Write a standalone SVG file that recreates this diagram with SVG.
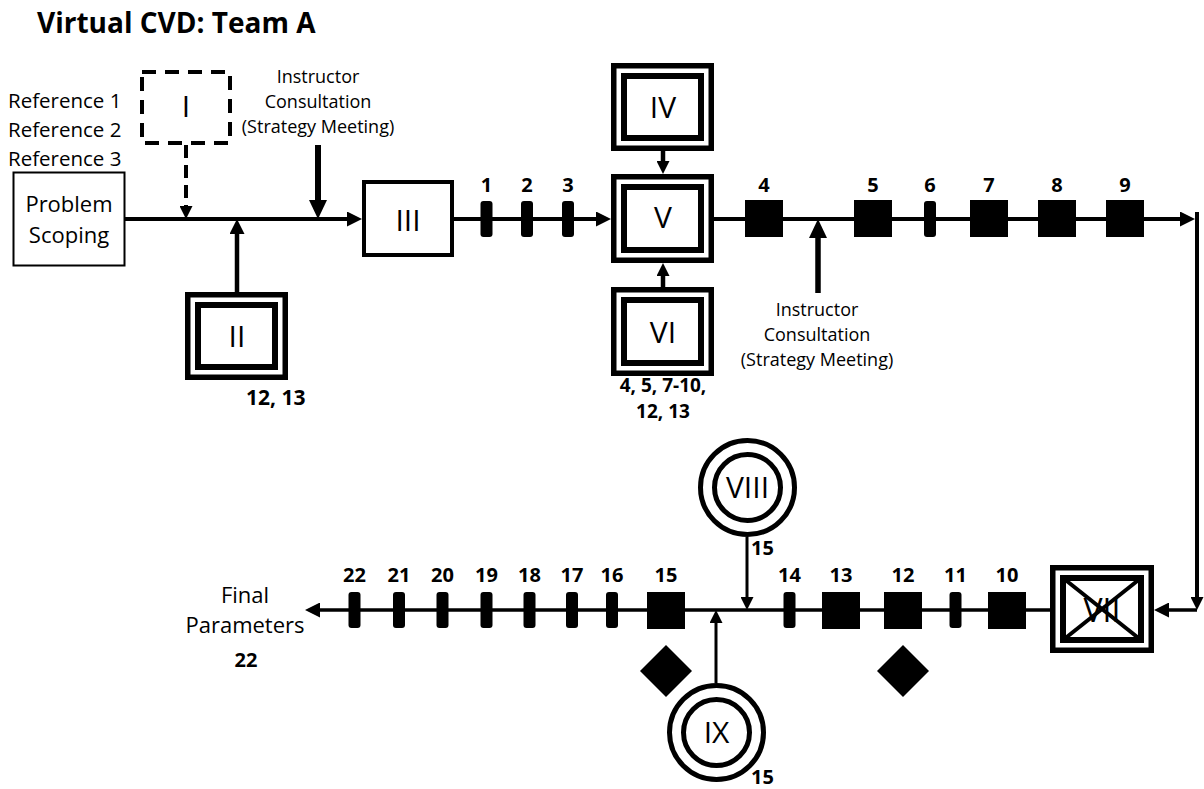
<svg xmlns="http://www.w3.org/2000/svg" width="1204" height="789" viewBox="0 0 1204 789">
<style>
text{font-family:"Open Sans","Liberation Sans",sans-serif;fill:#000}
.title{font-size:28px;font-weight:bold}
.ref{font-size:20.5px}
.ic{font-size:18px;text-anchor:middle}
.ps{font-size:22px;text-anchor:middle}
.rn{font-size:30px;font-weight:normal;text-anchor:middle}
.num{font-size:20px;font-weight:bold;text-anchor:middle}
.o{fill:none;stroke:#000;stroke-width:5.5}
.i{fill:none;stroke:#000;stroke-width:6}
.ln{fill:none;stroke:#000}
.mk{fill:#000}
</style>
<defs>
<marker id="ah" markerUnits="userSpaceOnUse" markerWidth="15" markerHeight="15" refX="1" refY="7.5" orient="auto"><path d="M0,0 L15,7.5 L0,15 z" fill="#000"/></marker>
<marker id="ahb" markerUnits="userSpaceOnUse" markerWidth="19" markerHeight="18" refX="1" refY="9" orient="auto"><path d="M0,0 L19,9 L0,18 z" fill="#000"/></marker>
<marker id="ahs" markerUnits="userSpaceOnUse" markerWidth="13" markerHeight="13" refX="1" refY="6.5" orient="auto"><path d="M0,0 L13,6.5 L0,13 z" fill="#000"/></marker>
</defs>
<rect width="1204" height="789" fill="#fff"/>
<text class="title" x="37" y="33">Virtual CVD: Team A</text>

<g id="connectors">
<line class="ln" x1="125" y1="219" x2="348" y2="219" stroke-width="4" marker-end="url(#ah)"/>
<line class="ln" x1="186" y1="145" x2="186" y2="207" stroke-width="4" stroke-dasharray="13 7" marker-end="url(#ahs)"/>
<line class="ln" x1="237" y1="292" x2="237" y2="233" stroke-width="4.5" marker-end="url(#ah)"/>
<line class="ln" x1="318" y1="145" x2="318" y2="201" stroke-width="6" marker-end="url(#ahb)"/>
<line class="ln" x1="454" y1="219" x2="597" y2="219" stroke-width="4" marker-end="url(#ah)"/>
<line class="ln" x1="663" y1="151" x2="663" y2="162" stroke-width="4.5" marker-end="url(#ahs)"/>
<line class="ln" x1="663" y1="287" x2="663" y2="275" stroke-width="4.5" marker-end="url(#ahs)"/>
<line class="ln" x1="714" y1="219" x2="1181" y2="219" stroke-width="4" marker-end="url(#ah)"/>
<line class="ln" x1="818" y1="293" x2="818" y2="237" stroke-width="5.5" marker-end="url(#ahb)"/>
<line class="ln" x1="1197" y1="212" x2="1197" y2="598" stroke-width="4" marker-end="url(#ahs)"/>
<line class="ln" x1="1197" y1="610" x2="1168" y2="610" stroke-width="3.5" marker-end="url(#ah)"/>
<line class="ln" x1="1050" y1="610" x2="319" y2="610" stroke-width="3.5" marker-end="url(#ah)"/>
<line class="ln" x1="747" y1="537" x2="747" y2="598" stroke-width="3" marker-end="url(#ahs)"/>
<line class="ln" x1="716" y1="683" x2="716" y2="622" stroke-width="3" marker-end="url(#ahs)"/>
</g>

<g id="references">
<text class="ref" x="8" y="108">Reference 1</text>
<text class="ref" x="8" y="137">Reference 2</text>
<text class="ref" x="8" y="166">Reference 3</text>
</g>

<g id="problem-scoping">
<rect x="13.5" y="172.5" width="111" height="93" fill="#fff" stroke="#000" stroke-width="2"/>
<text class="ps" x="69" y="212">Problem</text>
<text class="ps" x="69" y="243">Scoping</text>
</g>

<g id="node-I">
<rect x="142" y="72" width="88" height="71" fill="none" stroke="#000" stroke-width="4" stroke-dasharray="14 9"/>
<text class="rn" x="186" y="117">I</text>
</g>

<g id="instructor-top">
<text class="ic" x="318" y="83">Instructor</text>
<text class="ic" x="318" y="108">Consultation</text>
<text class="ic" x="318" y="133">(Strategy Meeting)</text>
</g>

<g id="node-II">
<rect class="o" x="187.75" y="294.75" width="97.5" height="82.5"/>
<rect class="i" x="198" y="305" width="77" height="62"/>
<text class="rn" x="237" y="347">II</text>
<text class="num" x="246" y="405" style="text-anchor:start;font-size:21px">12, 13</text>
</g>

<g id="node-III">
<rect x="364" y="182" width="88" height="73" fill="#fff" stroke="#000" stroke-width="4"/>
<text class="rn" x="408" y="231">III</text>
</g>

<g id="node-IV">
<rect class="o" x="613.75" y="65.75" width="97.5" height="82.5" fill="#fff"/>
<rect class="i" x="624" y="76" width="77" height="62"/>
<text class="rn" x="663" y="118">IV</text>
</g>

<g id="node-V">
<rect class="o" x="613.75" y="176.75" width="97.5" height="83.5"/>
<rect class="i" x="624" y="187" width="77" height="63"/>
<text class="rn" x="663" y="228">V</text>
</g>

<g id="node-VI">
<rect class="o" x="613.75" y="289.75" width="97.5" height="83.5"/>
<rect class="i" x="624" y="300" width="77" height="63"/>
<text class="rn" x="663" y="343">VI</text>
<text class="num" x="663" y="392" style="font-size:19px">4, 5, 7-10,</text>
<text class="num" x="663" y="418" style="font-size:19px">12, 13</text>
</g>

<g id="instructor-bottom">
<text class="ic" x="817" y="316">Instructor</text>
<text class="ic" x="817" y="341">Consultation</text>
<text class="ic" x="817" y="366">(Strategy Meeting)</text>
</g>

<g id="top-markers">
<rect class="mk" x="480.5" y="201" width="12" height="36" rx="3"/><text class="num" x="486.5" y="192">1</text>
<rect class="mk" x="521" y="201" width="12" height="36" rx="3"/><text class="num" x="527" y="192">2</text>
<rect class="mk" x="562" y="201" width="12" height="36" rx="3"/><text class="num" x="568" y="192">3</text>
<rect class="mk" x="745" y="200" width="38" height="37"/><text class="num" x="764" y="192">4</text>
<rect class="mk" x="854" y="200" width="38" height="37"/><text class="num" x="873" y="192">5</text>
<rect class="mk" x="924" y="201" width="12" height="36" rx="3"/><text class="num" x="930" y="192">6</text>
<rect class="mk" x="970" y="200" width="38" height="37"/><text class="num" x="989" y="192">7</text>
<rect class="mk" x="1038" y="200" width="38" height="37"/><text class="num" x="1057" y="192">8</text>
<rect class="mk" x="1106" y="200" width="38" height="37"/><text class="num" x="1125" y="192">9</text>
</g>

<g id="node-VII">
<rect class="o" x="1052.75" y="567.75" width="98.5" height="82.5" fill="#fff"/>
<rect class="i" x="1063" y="578" width="78" height="62"/>
<text class="rn" x="1102" y="622" style="font-size:32px">VII</text>
<line x1="1063" y1="578" x2="1141" y2="640" stroke="#000" stroke-width="4"/>
<line x1="1141" y1="578" x2="1063" y2="640" stroke="#000" stroke-width="4"/>
</g>

<g id="bottom-markers">
<rect class="mk" x="988" y="592" width="38" height="37"/><text class="num" x="1007" y="582">10</text>
<rect class="mk" x="949.5" y="592" width="12" height="36" rx="3"/><text class="num" x="955.5" y="582">11</text>
<rect class="mk" x="884" y="592" width="38" height="37"/><text class="num" x="903" y="582">12</text>
<rect class="mk" x="822" y="592" width="38" height="37"/><text class="num" x="841" y="582">13</text>
<rect class="mk" x="783.5" y="592" width="12" height="36" rx="3"/><text class="num" x="789.5" y="582">14</text>
<rect class="mk" x="647" y="592" width="38" height="37"/><text class="num" x="666" y="582">15</text>
<rect class="mk" x="606" y="592" width="12" height="36" rx="3"/><text class="num" x="612" y="582">16</text>
<rect class="mk" x="566" y="592" width="12" height="36" rx="3"/><text class="num" x="572" y="582">17</text>
<rect class="mk" x="523.5" y="592" width="12" height="36" rx="3"/><text class="num" x="529.5" y="582">18</text>
<rect class="mk" x="480.5" y="592" width="12" height="36" rx="3"/><text class="num" x="486.5" y="582">19</text>
<rect class="mk" x="436.5" y="592" width="12" height="36" rx="3"/><text class="num" x="442.5" y="582">20</text>
<rect class="mk" x="393" y="592" width="12" height="36" rx="3"/><text class="num" x="399" y="582">21</text>
<rect class="mk" x="348.5" y="592" width="12" height="36" rx="3"/><text class="num" x="354.5" y="582">22</text>
</g>

<g id="diamonds">
<path class="mk" d="M666,645 L692,671 L666,697 L640,671 z"/>
<path class="mk" d="M903,645 L929,671 L903,697 L877,671 z"/>
</g>

<g id="node-VIII">
<circle cx="747.5" cy="487.5" r="47" fill="#fff" stroke="#000" stroke-width="5"/>
<circle cx="747.5" cy="487.5" r="33" fill="none" stroke="#000" stroke-width="5"/>
<text class="rn" x="747.5" y="498">VIII</text>
<text class="num" x="751" y="555" style="text-anchor:start">15</text>
</g>

<g id="node-IX">
<circle cx="716.5" cy="732.5" r="47" fill="#fff" stroke="#000" stroke-width="5"/>
<circle cx="716.5" cy="732.5" r="33" fill="none" stroke="#000" stroke-width="5"/>
<text class="rn" x="716.5" y="743">IX</text>
<text class="num" x="751" y="784" style="text-anchor:start">15</text>
</g>

<g id="final-parameters">
<text class="ps" x="245" y="603">Final</text>
<text class="ps" x="245" y="633">Parameters</text>
<text class="num" x="246" y="667">22</text>
</g>
</svg>
